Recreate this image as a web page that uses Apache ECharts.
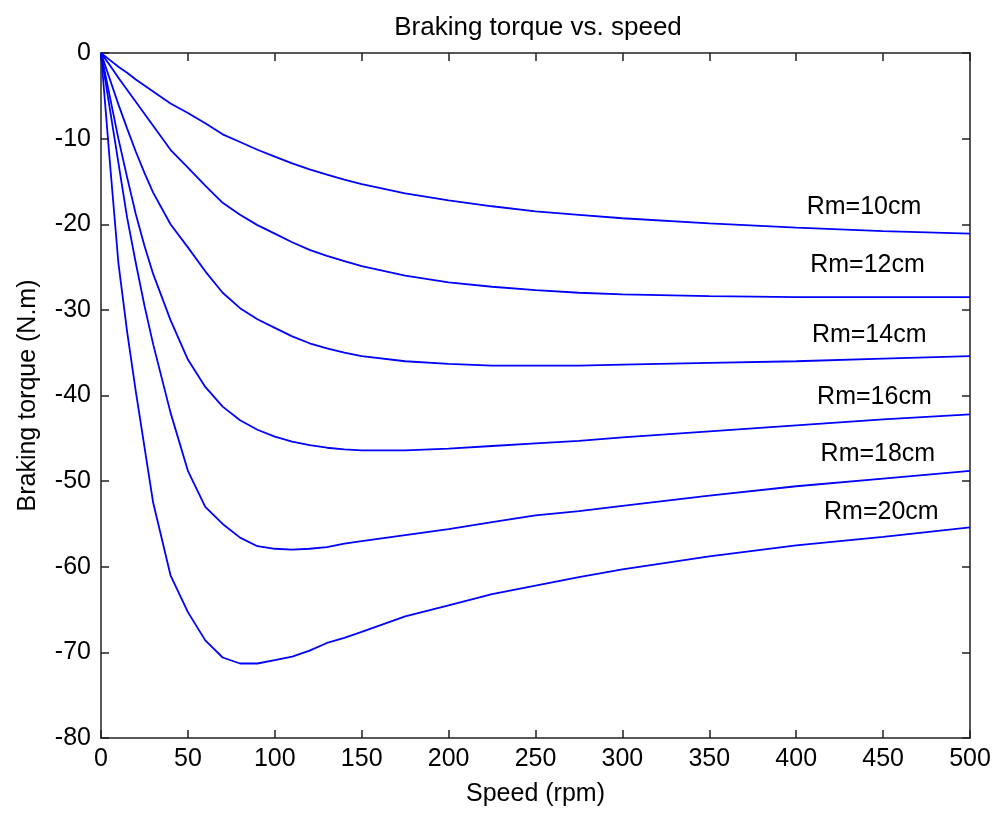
<!DOCTYPE html>
<html>
<head>
<meta charset="utf-8">
<script src="https://cdn.jsdelivr.net/npm/echarts@6/dist/echarts.min.js"></script>
<style>
html,body{margin:0;padding:0;background:#fff;}
#chart{width:994px;height:813px;}
</style>
</head>
<body>
<div id="chart"></div>
<script>
// ---- data ----
var speed = [0, 5, 10, 15, 20, 25, 30, 40, 50, 60, 70, 80, 90, 100, 110, 120, 130, 140, 150, 175, 200, 225, 250, 275, 300, 350, 400, 450, 500];
var rm10 = [0, -0.8, -1.6, -2.3, -3.1, -3.8, -4.5, -5.9, -7.0, -8.2, -9.5, -10.4, -11.3, -12.1, -12.9, -13.6, -14.2, -14.8, -15.3, -16.4, -17.2, -17.9, -18.5, -18.9, -19.3, -19.9, -20.4, -20.8, -21.1];
var rm12 = [0, -1.4, -2.9, -4.3, -5.7, -7.1, -8.5, -11.3, -13.4, -15.5, -17.5, -18.9, -20.1, -21.1, -22.1, -23.0, -23.7, -24.3, -24.9, -26.0, -26.8, -27.3, -27.7, -28.0, -28.2, -28.4, -28.5, -28.5, -28.5];
var rm14 = [0, -3.0, -6.0, -8.8, -11.5, -14.0, -16.3, -20.0, -22.7, -25.5, -28.0, -29.8, -31.1, -32.1, -33.1, -33.9, -34.5, -35.0, -35.4, -36.0, -36.3, -36.5, -36.5, -36.5, -36.4, -36.2, -36.0, -35.7, -35.4];
var rm16 = [0, -5.0, -10.0, -14.5, -18.8, -22.5, -25.8, -31.2, -35.8, -39.0, -41.3, -42.9, -44.0, -44.8, -45.4, -45.8, -46.1, -46.3, -46.4, -46.4, -46.2, -45.9, -45.6, -45.3, -44.9, -44.2, -43.5, -42.8, -42.2];
var rm18 = [0, -6.4, -12.8, -19.2, -24.5, -29.5, -34.0, -42.0, -48.8, -53.0, -55.0, -56.6, -57.6, -57.9, -58.0, -57.9, -57.7, -57.3, -57.0, -56.3, -55.6, -54.8, -54.0, -53.5, -52.9, -51.7, -50.6, -49.7, -48.8];
var rm20 = [0, -12.5, -24.5, -32.5, -39.5, -46.0, -52.5, -61.0, -65.3, -68.6, -70.6, -71.3, -71.3, -70.9, -70.5, -69.8, -68.9, -68.3, -67.6, -65.8, -64.5, -63.2, -62.2, -61.2, -60.3, -58.8, -57.5, -56.5, -55.4];
var seriesNames = ['Rm=10cm', 'Rm=12cm', 'Rm=14cm', 'Rm=16cm', 'Rm=18cm', 'Rm=20cm'];
var labelSpeed = [439, 441, 442, 445, 447, 449];
var labelTorque = [-18.0, -24.8, -33.0, -40.2, -46.9, -53.6];
var xTicks = [0, 50, 100, 150, 200, 250, 300, 350, 400, 450, 500];
var yTicks = [0, -10, -20, -30, -40, -50, -60, -70, -80];

var allSeries = [rm10, rm12, rm14, rm16, rm18, rm20];

var FONT = '"Liberation Sans", Arial, sans-serif';
var FS = 25;
var TXT = '#000';
var AX = '#222';

function pairs(xs, ys) { return xs.map(function (x, i) { return [x, ys[i]]; }); }

var chart = echarts.init(document.getElementById('chart'), null, {renderer: 'canvas'});

var axisCommonX = {
  type: 'value', min: xTicks[0], max: xTicks[xTicks.length - 1], interval: 50,
  splitLine: {show: false},
  axisLine: {show: true, onZero: false, lineStyle: {color: AX, width: 1.5}},
  axisTick: {show: true, inside: true, length: 8, lineStyle: {color: AX, width: 1.5}}
};
var axisCommonY = {
  type: 'value', min: yTicks[yTicks.length - 1], max: yTicks[0], interval: 10,
  splitLine: {show: false},
  axisLine: {show: true, onZero: false, lineStyle: {color: AX, width: 1.5}},
  axisTick: {show: true, inside: true, length: 8, lineStyle: {color: AX, width: 1.5}}
};

var series = allSeries.map(function (ys, i) {
  return {
    name: seriesNames[i],
    type: 'line',
    data: pairs(speed, ys),
    showSymbol: false,
    symbol: 'none',
    smooth: false,
    animation: false,
    lineStyle: {color: '#0000ff', width: 1.8},
    markPoint: {
      symbol: 'circle', symbolSize: 0,
      data: [{coord: [labelSpeed[i], labelTorque[i]], value: seriesNames[i]}],
      label: {show: true, position: 'inside', formatter: seriesNames[i], color: TXT, fontFamily: FONT, fontSize: FS},
      animation: false
    }
  };
});

chart.setOption({
  backgroundColor: '#fff',
  animation: false,
  title: {
    text: 'Braking torque vs. speed',
    left: 533, top: 10, textAlign: 'center',
    textStyle: {color: TXT, fontFamily: FONT, fontSize: 26, fontWeight: 'normal'}
  },
  grid: {left: 101, right: 24, top: 53, bottom: 75, containLabel: false},
  xAxis: [
    Object.assign({}, axisCommonX, {
      position: 'bottom',
      name: 'Speed (rpm)', nameLocation: 'middle', nameGap: 44,
      nameTextStyle: {color: TXT, fontFamily: FONT, fontSize: FS},
      axisLabel: {color: TXT, fontFamily: FONT, fontSize: FS, margin: 9}
    }),
    Object.assign({}, axisCommonX, {position: 'top', axisLabel: {show: false}})
  ],
  yAxis: [
    Object.assign({}, axisCommonY, {
      position: 'left',
      name: 'Braking torque (N.m)', nameLocation: 'middle', nameGap: 60,
      nameTextStyle: {color: TXT, fontFamily: FONT, fontSize: FS},
      axisLabel: {color: TXT, fontFamily: FONT, fontSize: FS, margin: 10}
    }),
    Object.assign({}, axisCommonY, {position: 'right', axisLabel: {show: false}})
  ],
  series: series
});
</script>
</body>
</html>
